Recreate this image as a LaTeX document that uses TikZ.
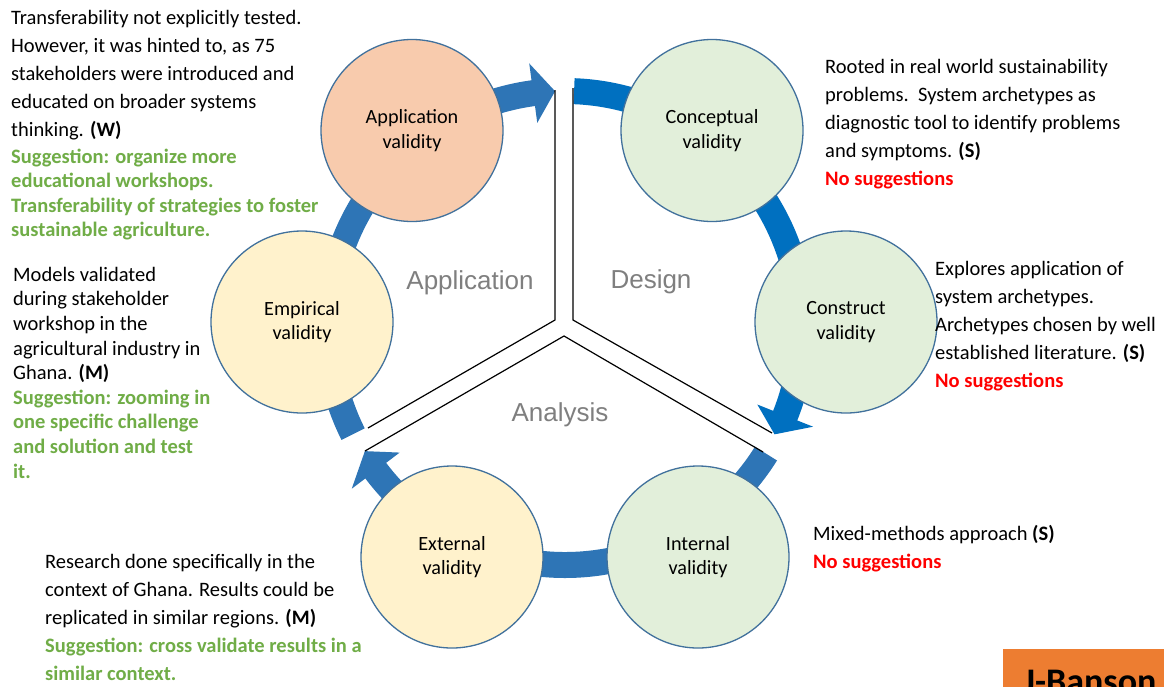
\documentclass[tikz,border=0pt]{standalone}
\usepackage{fontspec}
\setmainfont{Carlito}
\newfontfamily\arialf{Liberation Sans}
\definecolor{bandA}{HTML}{2E75B6}
\definecolor{bandD}{HTML}{0070C0}
\definecolor{peach}{HTML}{F8CBAD}
\definecolor{lgreen}{HTML}{E2EFDA}
\definecolor{lyellow}{HTML}{FFF2CC}
\definecolor{cborder}{HTML}{41719C}
\definecolor{sgreen}{HTML}{70AD47}
\definecolor{sred}{HTML}{FF0000}
\definecolor{lblgray}{HTML}{7F7F7F}
\definecolor{jorange}{HTML}{ED7D31}
\begin{document}
\begin{tikzpicture}[x=1pt,y=-1pt,
  valid/.style={circle, draw=cborder, line width=1.3pt, minimum size=182pt, inner sep=0pt, align=center, font=\fontsize{20.2}{24.5}\selectfont},
  blk/.style={anchor=north west, inner sep=0pt, align=left},
  f28/.style={font=\fontsize{20.5}{28}\selectfont},
  f246/.style={font=\fontsize{20.5}{24.6}\selectfont},
  fb245/.style={font=\fontsize{20.5}{24.5}\selectfont\bfseries},
  phase/.style={font=\arialf\fontsize{26}{30}\selectfont, text=lblgray, inner sep=0pt},
  divider/.style={line width=1.2pt, black}
]
\useasboundingbox (0,0) rectangle (1164,686);
\fill[white] (0,0) rectangle (1164,686);

% ring of arrows
\begin{scope}[shift={(565,328)}]
  % Design segment
  \fill[bandD] (-87.8:250) arc[start angle=-87.8, end angle=21.7, radius=250]
    -- (21.7:267) -- (26.9:235) -- (21.7:207) -- (21.7:224)
    arc[start angle=21.7, end angle=-87.8, radius=224] -- cycle;
  % Analysis segment
  \fill[bandA] (32:250) arc[start angle=32, end angle=143, radius=250]
    -- (143:267) -- (148.4:235) -- (143:207) -- (143:224)
    arc[start angle=143, end angle=32, radius=224] -- cycle;
  % Application segment
  \fill[bandA] (153.4:250) arc[start angle=153.4, end angle=262.3, radius=250]
    -- (262.3:267) -- (267.6:237) -- (262.3:207) -- (262.3:224)
    arc[start angle=262.3, end angle=153.4, radius=224] -- cycle;
\end{scope}

% dividers
\coordinate (a1) at (555,90);
\coordinate (j1) at (555,320);
\coordinate (b1) at (368,428);
\coordinate (a2) at (573,88);
\coordinate (j2) at (573,320);
\coordinate (b2) at (772,433);
\coordinate (a3) at (365,451);
\coordinate (j3) at (564,336);
\coordinate (b3) at (763,452);
\draw[divider] (a1) -- (j1) -- (b1);
\draw[divider] (a2) -- (j2) -- (b2);
\draw[divider] (a3) -- (j3) -- (b3);

% phase labels
\node[phase] (lapp) at (470,283) {Application};
\node[phase] (ldes) at (651,282) {Design};
\node[phase] (lana) at (560,415) {Analysis};

% validity circles
\node[valid, fill=peach] (app) at (412,130.5) {Application\\validity};
\node[valid, fill=lgreen] (con) at (712,130.5) {Conceptual\\validity};
\node[valid, fill=lgreen] (cst) at (846,322) {Construct\\validity};
\node[valid, fill=lgreen] (int) at (698,557) {Internal\\validity};
\node[valid, fill=lyellow] (ext) at (452,557) {External\\validity};
\node[valid, fill=lyellow] (emp) at (302,322) {Empirical\\validity};

% text blocks
\node[blk, f28] (t1) at (11,4.4) {\strut Transferability not explicitly tested.\\However, it was hinted to, as 75\\stakeholders were introduced and\\educated on broader systems\\thinking. \textbf{(W)}};
\node[blk, fb245, text=sgreen] (s1) at (11,145.85) {\strut Suggestion: organize more\\educational workshops.\\Transferability of strategies to foster\\sustainable agriculture.};
\node[blk, f246] (t2) at (13,263.8) {\strut Models validated\\during stakeholder\\workshop in the\\agricultural industry in\\Ghana. \textbf{(M)}\\\textcolor{sgreen}{\textbf{Suggestion: zooming in}}\\\textcolor{sgreen}{\textbf{one specific challenge}}\\\textcolor{sgreen}{\textbf{and solution and test}}\\\textcolor{sgreen}{\textbf{it.}}};
\node[blk, f28] (t3) at (825,53.4) {\strut Rooted in real world sustainability\\problems.\ \ System archetypes as\\diagnostic tool to identify problems\\and symptoms. \textbf{(S)}\\\textcolor{sred}{\textbf{No suggestions}}};
\node[blk, f28] (t4) at (935,255.4) {\strut Explores application of\\system archetypes.\\Archetypes chosen by well\\established literature. \textbf{(S)}\\\textcolor{sred}{\textbf{No suggestions}}};
\node[blk, f28] (t5) at (813,520.4) {\strut Mixed-methods approach \textbf{(S)}\\\textcolor{sred}{\textbf{No suggestions}}};
\node[blk, f28] (t6) at (45,548.4) {\strut Research done specifically in the\\context of Ghana. Results could be\\replicated in similar regions. \textbf{(M)}\\\textcolor{sgreen}{\textbf{Suggestion: cross validate results in a}}\\\textcolor{sgreen}{\textbf{similar context.}}};

% author tag (cut off at page edge, as in the reference)
\begin{scope}
  \clip (0,0) rectangle (1164,686);
  \fill[jorange] (1003,649) rectangle (1170,700);
  \node[anchor=base west, inner sep=0pt, font=\fontsize{36}{40}\selectfont\bfseries] (jb) at (1023,693) {J-Banson};
\end{scope}
\end{tikzpicture}
\end{document}
